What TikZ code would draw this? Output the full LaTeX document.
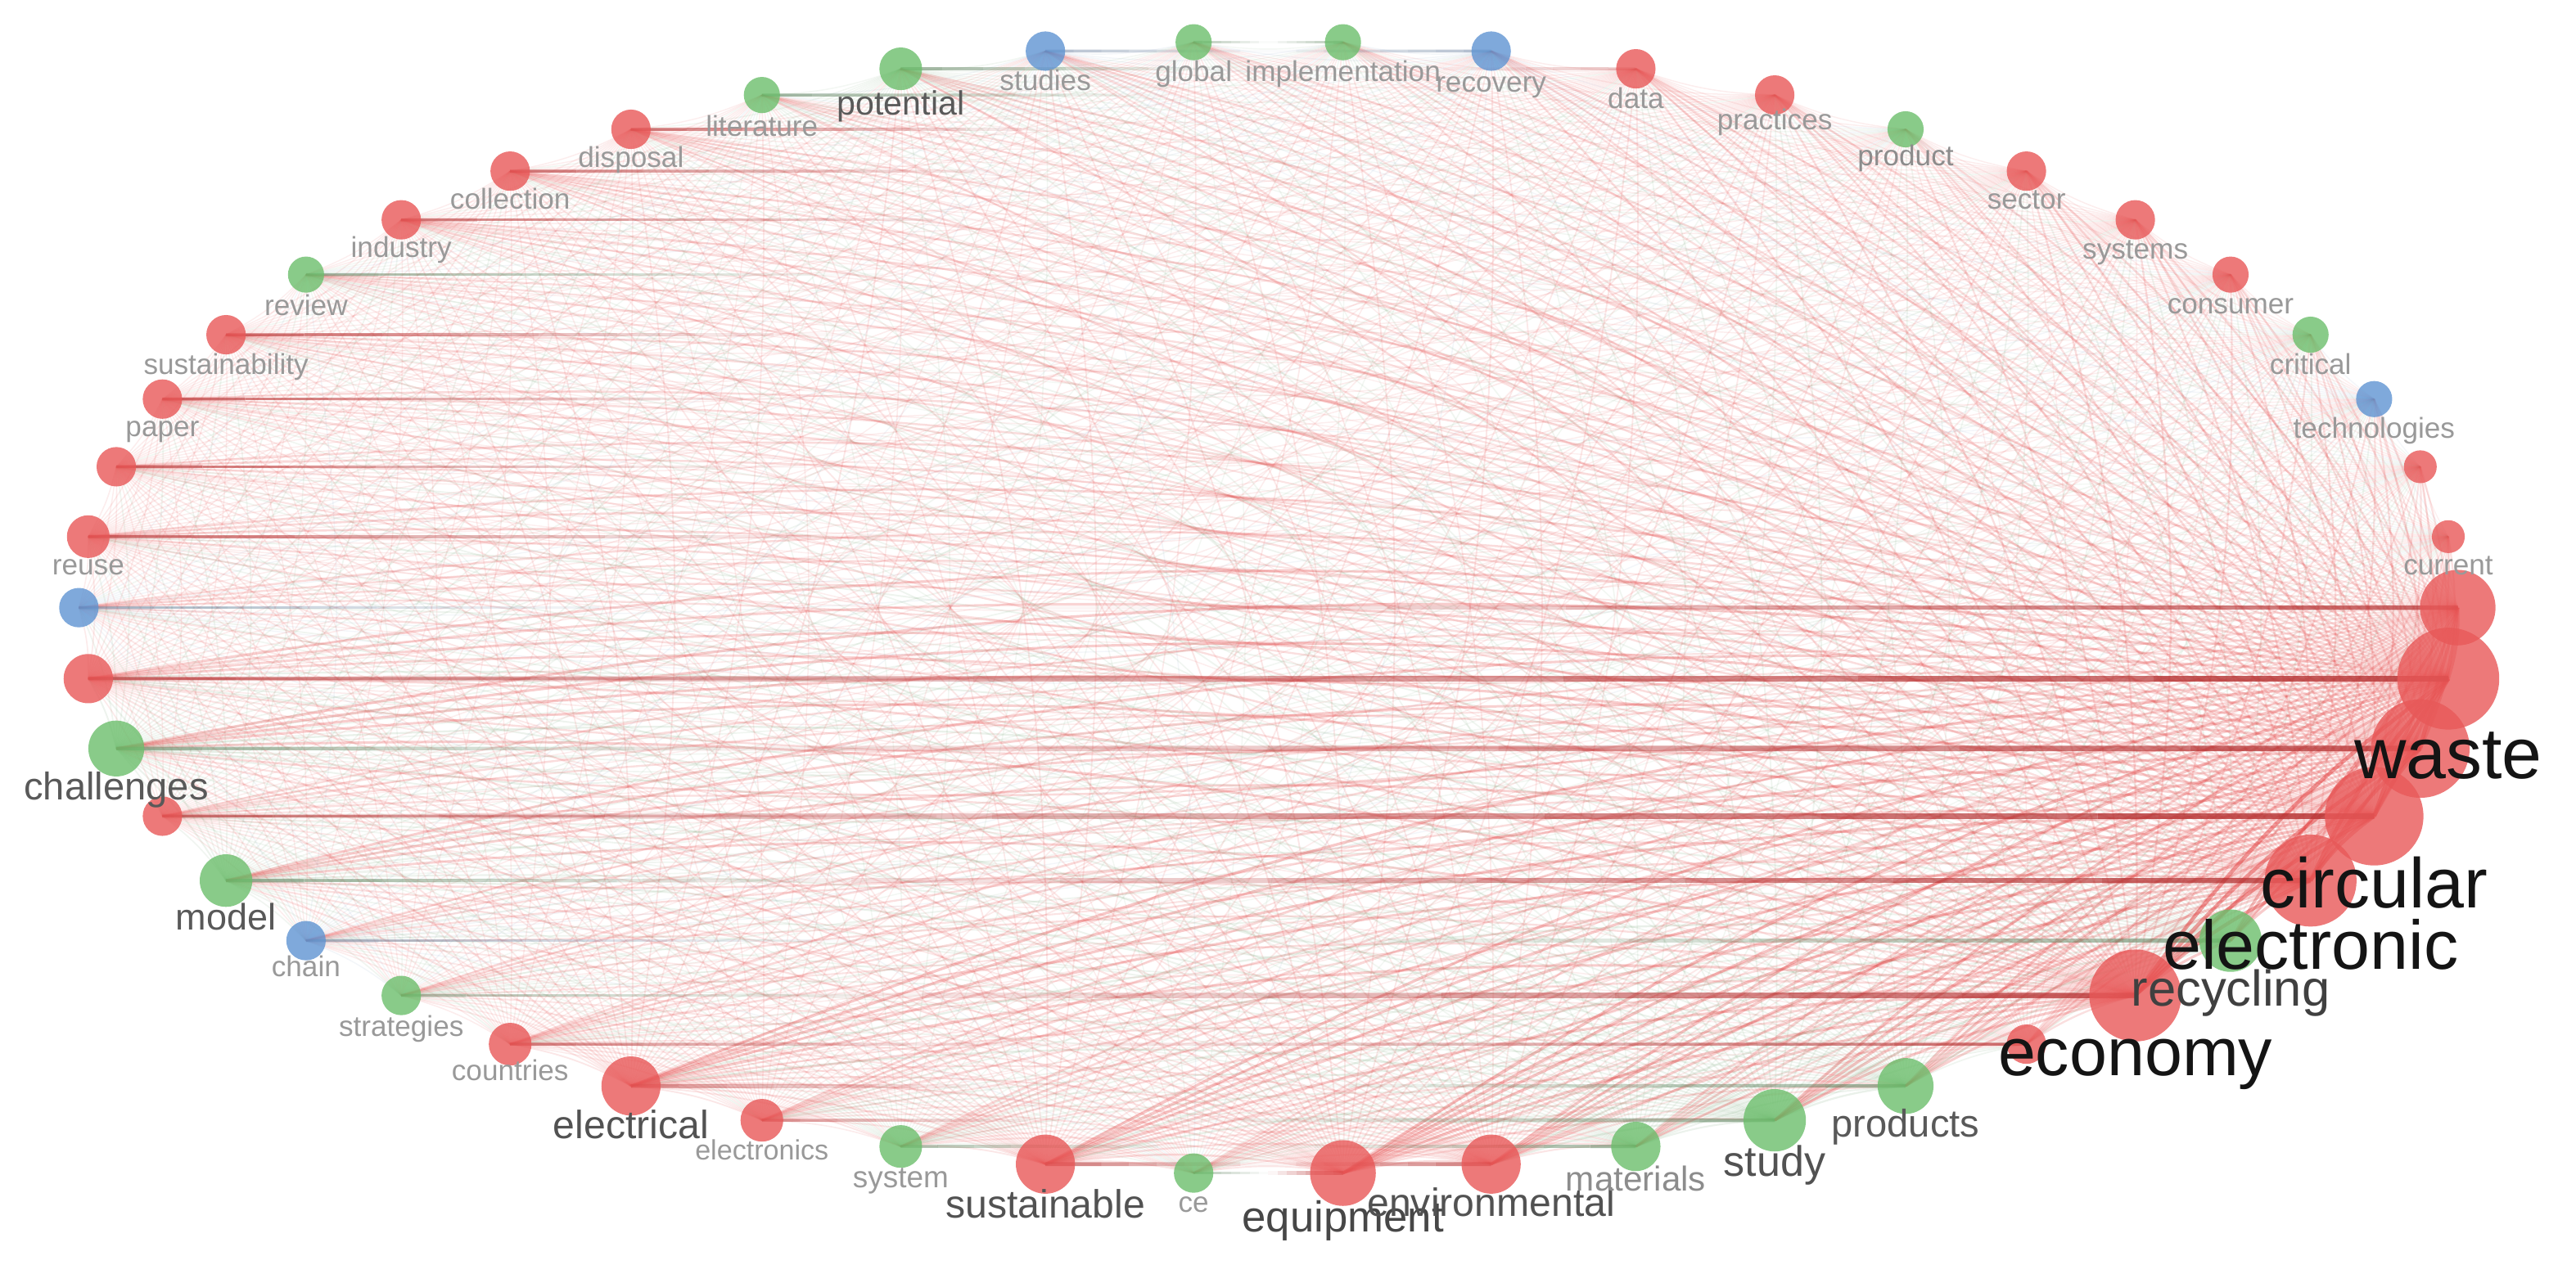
\documentclass[tikz,border=0pt]{standalone}
\usepackage{fontspec}
\setmainfont{Liberation Sans}
\usetikzlibrary{calc}
\definecolor{er}{RGB}{226,60,60}
\definecolor{eg}{RGB}{120,165,120}
\definecolor{eb}{RGB}{120,150,190}
\definecolor{fr}{RGB}{232,88,88}
\definecolor{fg}{RGB}{108,190,108}
\definecolor{fb}{RGB}{95,148,210}
\pgfdeclarelayer{edges}
\pgfsetlayers{edges,main}
\tikzset{
  kw/.style={circle,inner sep=0pt,fill opacity=0.8,draw=none},
  lab/.style={anchor=base,inner sep=0pt},
  link/.style={bend left=9},
}
\begin{document}
\begin{tikzpicture}[x=0.02007cm,y=-0.02007cm]
\useasboundingbox (0,0) rectangle (1568,770);
% keyword nodes on an ellipse
\foreach \k/\r/\c/\nm in {
 0/23/r/nA, 1/10/r/current, 2/10/r/nB, 3/11/b/technologies, 4/11/g/critical,
 5/11/r/consumer, 6/12/r/systems, 7/12/r/sector, 8/11/g/product, 9/12/r/practices,
 10/12/r/data, 11/12/b/recovery, 12/11/g/implementation, 13/11/g/global, 14/12/b/studies,
 15/13/g/potential, 16/11/g/literature, 17/12/r/disposal, 18/12/r/collection, 19/12/r/industry,
 20/11/g/review, 21/12/r/sustainability, 22/12/r/paper, 23/12/r/nC, 24/13/r/reuse,
 25/12/b/nD, 26/15/r/nE, 27/17/g/challenges, 28/12/r/nF, 29/16/g/model,
 30/12/b/chain, 31/12/g/strategies, 32/13/r/countries, 33/18/r/electrical, 34/13/r/electronics,
 35/13/g/system, 36/18/r/sustainable, 37/12/g/ce, 38/20/r/equipment, 39/18/r/environmental,
 40/15/g/materials, 41/19/g/study, 42/17/g/products, 43/12/r/nG, 44/28/r/economy,
 45/19/g/recycling, 46/28/r/electronic, 47/30/r/circular, 48/30/r/nH, 49/31/r/waste}{
  \pgfmathsetmacro\px{772+724*cos(7.2*\k)}
  \pgfmathsetmacro\py{370-345*sin(7.2*\k)}
  \node[kw,fill=f\c,minimum size=2*\r*0.02007cm] (\nm) at (\px,\py) {};
  \expandafter\xdef\csname kr\k\endcsname{\r}
  \expandafter\xdef\csname kc\k\endcsname{\c}
  \expandafter\xdef\csname kn\k\endcsname{\nm}
}
\def\redname{er}
% links
\begin{pgfonlayer}{edges}
\foreach \i in {0,...,48}{
  \pgfmathtruncatemacro\ip{\i+1}
  \foreach \j in {\ip,...,49}{
    \edef\ri{\csname kr\i\endcsname}\edef\rj{\csname kr\j\endcsname}
    \edef\ni{\csname kn\i\endcsname}\edef\nj{\csname kn\j\endcsname}
    \edef\ci{e\csname kc\i\endcsname}\edef\cj{e\csname kc\j\endcsname}
    \ifnum\ri>\rj \edef\ec{\ci}\else\ifnum\rj>\ri \edef\ec{\cj}\else\edef\ec{\ci}\ifx\cj\redname\edef\ec{er}\fi\fi\fi
    \pgfmathsetmacro\ew{\ri*\rj/961}
    \pgfmathsetmacro\eop{0.06+0.5*\ew^1.5}
    \pgfmathsetmacro\elw{0.25+1.2*\ew}
    \draw[link,line width=\elw pt,draw=\ec,draw opacity=\eop] (\ni.center) to (\nj.center);
  }
}
% mirrored (horizontal) links, fading away from each end
\foreach \i/\j/\oi/\ai/\oj/\aj in {
  0/25/0.75/0.6/0.5/0.25, 1/24/0/0/0.65/0.35, 2/23/0/0/0.65/0.3, 3/22/0/0/0.65/0.3,
  4/21/0/0/0.65/0.3, 5/20/0/0/0.6/0.3, 6/19/0/0/0.65/0.35, 7/18/0/0/0.65/0.35,
  8/17/0/0/0.65/0.35, 9/16/0/0/0.6/0.4, 10/15/0.3/0.3/0.6/0.45, 11/14/0.5/0.5/0.5/0.5,
  12/13/0.5/0.5/0.5/0.5,
  26/49/0.7/0.5/0.85/1, 27/48/0.6/0.3/0.8/0.8, 28/47/0.7/0.4/0.85/1, 29/46/0.6/0.3/0.8/0.8,
  30/45/0.5/0.3/0.6/0.5, 31/44/0.5/0.3/0.8/0.8, 32/43/0.6/0.35/0.7/0.7, 33/42/0.5/0.3/0.6/0.5,
  34/41/0.5/0.3/0.6/0.6, 35/40/0.5/0.4/0.6/0.5, 36/39/0.7/0.5/0.7/0.5, 37/38/0.5/0.5/0.7/0.5}{
    \edef\ri{\csname kr\i\endcsname}\edef\rj{\csname kr\j\endcsname}
    \edef\ni{\csname kn\i\endcsname}\edef\nj{\csname kn\j\endcsname}
    \edef\ci{e\csname kc\i\endcsname}\edef\cj{e\csname kc\j\endcsname}
    \pgfmathsetmacro\lwi{0.4+0.05*\ri}
    \pgfmathsetmacro\lwj{0.4+0.05*\rj}
    \foreach \s in {0,...,7}{
      \pgfmathsetmacro\fa{\ai*\s/8}\pgfmathsetmacro\fb{\ai*(\s+1)/8}
      \pgfmathsetmacro\so{\oi*(1-(\s+0.5)/8)}
      \draw[line width=\lwi pt,draw=\ci!80!black,draw opacity=\so]
        ($(\ni.center)!\fa!(\nj.center)$) -- ($(\ni.center)!\fb!(\nj.center)$);
      \pgfmathsetmacro\fa{\aj*\s/8}\pgfmathsetmacro\fb{\aj*(\s+1)/8}
      \pgfmathsetmacro\so{\oj*(1-(\s+0.5)/8)}
      \draw[line width=\lwj pt,draw=\cj!80!black,draw opacity=\so]
        ($(\nj.center)!\fa!(\ni.center)$) -- ($(\nj.center)!\fb!(\ni.center)$);
    }
}
\end{pgfonlayer}
% labels
\foreach \nm/\t/\dy/\sz/\g in {
 current/current/23/10/40, technologies/technologies/24/10/40, critical/critical/24/10/40,
 consumer/consumer/24/10/40, systems/systems/24/10/40, sector/sector/23/10/40,
 product/product/22/10/45, practices/practices/21/10/40, data/data/24/10/40,
 recovery/recovery/25/10/40, implementation/implementation/24/10/40, global/global/24/10/40,
 studies/studies/24/10/40, potential/potential/28/11.7/65, literature/literature/25/10/40,
 disposal/disposal/23/10/40, collection/collection/23/10/40, industry/industry/23/10/40,
 review/review/25/10/40, sustainability/sustainability/24/10/40, paper/paper/23/10/40,
 reuse/reuse/23/10/40, challenges/challenges/31/13.4/65, model/model/30/12.8/65,
 chain/chain/22/10/40, strategies/strategies/25/10/40, countries/countries/22/10/40,
 electrical/electrical/32/13.7/68, electronics/electronics/24/9.7/40, system/system/25/10.5/40,
 sustainable/sustainable/33/13.7/68, ce/ce/24/10/40, equipment/equipment/36/15/72,
 environmental/environmental/32/13.7/68, materials/materials/27/12/45, study/study/34/14.8/68,
 products/products/31/13.4/65, economy/economy/49/23.5/92, recycling/recycling/40/17.5/75,
 electronic/electronic/54/24/92, circular/circular/56/24.5/92, waste/waste/61/25/92}{
  \node[lab,font=\fontsize{\sz}{\sz}\selectfont,text=black!\g] (l\nm) at ($(\nm.center)+(0,\dy)$) {\t};
}
\end{tikzpicture}
\end{document}
